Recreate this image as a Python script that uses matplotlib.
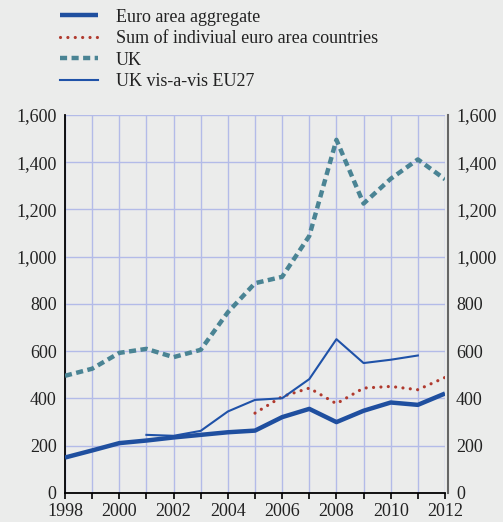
import numpy as np
import matplotlib.pyplot as plt
from matplotlib.ticker import FuncFormatter

plt.rcParams['font.family'] = ['Liberation Serif', 'DejaVu Serif']

# data
years = np.arange(1998, 2013)
euro_agg = [150, 180, 211, 222, 235, 246, 257, 264, 321, 356, 300, 348, 383, 373, 421]
uk = [496, 526, 593, 610, 575, 606, 765, 888, 915, 1088, 1495, 1225, 1330, 1412, 1328]
sum_years = np.arange(2005, 2013)
sum_countries = [338, 408, 444, 378, 444, 451, 437, 489]
uk_eu_years = np.arange(2001, 2012)
uk_eu27 = [246, 242, 263, 345, 394, 401, 482, 651, 550, 564, 582]

bg = '#ebeceb'
grid_col = '#b3bbe8'
txt = '#222222'

fig = plt.figure(figsize=(5.03, 5.22), dpi=100, facecolor=bg)
ax = fig.add_axes([0.1292, 0.0556, 0.7555, 0.7241], facecolor=bg)

l1, = ax.plot(years, euro_agg, color='#1f4f9f', lw=3.2, solid_capstyle='butt', zorder=5)
l2, = ax.plot(sum_years, sum_countries, color='#b03a2e', lw=2.3, linestyle=(0, (0.01, 2.3)),
              dash_capstyle='round', zorder=4)
l3, = ax.plot(years, uk, color='#4a8494', lw=3.2, linestyle=(0, (1.6, 1.0)), zorder=3)
l4, = ax.plot(uk_eu_years, uk_eu27, color='#1f52a8', lw=1.5, zorder=4)

ax.set_xlim(1998, 2012)
ax.set_ylim(0, 1600)
ax.set_xticks(years)
ax.set_xticklabels([str(y) if y % 2 == 0 else '' for y in years])
ax.set_yticks(np.arange(0, 1601, 200))
fmt = FuncFormatter(lambda v, p: f'{int(v):,}')
ax.yaxis.set_major_formatter(fmt)
ax.grid(True, color=grid_col, lw=1.0, zorder=0)
ax.set_axisbelow(True)

ax.tick_params(axis='x', direction='out', length=4, width=1.2, color='black',
               labelsize=13, labelcolor=txt, pad=3)
ax.tick_params(axis='y', length=0, labelsize=13, labelcolor=txt, pad=6)
ax.spines['top'].set_visible(False)
ax.spines['right'].set_visible(False)
ax.spines['left'].set_color('black')
ax.spines['left'].set_linewidth(1.3)
ax.spines['bottom'].set_color('black')
ax.spines['bottom'].set_linewidth(1.3)

ax2 = ax.twinx()
ax2.set_ylim(0, 1600)
ax2.set_yticks(np.arange(0, 1601, 200))
ax2.yaxis.set_major_formatter(fmt)
ax2.tick_params(axis='y', length=0, labelsize=13, labelcolor=txt, pad=6)
for s in ['top', 'left', 'bottom']:
    ax2.spines[s].set_visible(False)
ax2.spines['right'].set_color('#666666')
ax2.spines['right'].set_linewidth(1.5)
ax2.spines['right'].set_position(('outward', 2))

labels = ['Euro area aggregate', 'Sum of indiviual euro area countries', 'UK', 'UK vis-a-vis EU27']
leg = fig.legend([l1, l2, l3, l4], labels, loc='upper left', bbox_to_anchor=(0.105, 0.997),
                 frameon=False, fontsize=13, handlelength=2.1, handletextpad=1.0,
                 labelspacing=0.25, borderaxespad=0)
for t in leg.get_texts():
    t.set_color(txt)

fig.savefig('out.png', dpi=100, facecolor=bg)
